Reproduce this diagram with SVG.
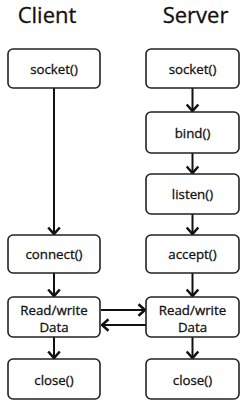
<svg xmlns="http://www.w3.org/2000/svg" width="250" height="409" viewBox="0 0 250 409">
<style>
.box rect{fill:#fff;stroke:#222;stroke-width:1.6}
.lbl{font-family:"Open Sans","Liberation Sans",sans-serif;font-size:13.3px;fill:#111;stroke:#111;stroke-width:0.3;text-anchor:middle}
.title{font-family:"Open Sans","Liberation Sans",sans-serif;font-size:22px;fill:#111;stroke:#111;stroke-width:0.3;text-anchor:middle}
.conn line{stroke:#111;stroke-width:2;marker-end:url(#arr)}
</style>
<defs>
<marker id="arr" markerUnits="userSpaceOnUse" viewBox="0 0 10 14" refX="8.5" refY="7" markerWidth="10" markerHeight="14" orient="auto">
<path d="M2,1.2 L8.5,7 L2,12.8" fill="none" stroke="#111" stroke-width="2.5"/>
</marker>
</defs>
<rect width="250" height="409" fill="#fff"/>
<text class="title" x="47" y="23">Client</text>
<text class="title" x="195.5" y="23">Server</text>
<g class="conn">
<line x1="54" y1="88" x2="54" y2="234"/>
<line x1="54" y1="273" x2="54" y2="296"/>
<line x1="54" y1="337" x2="54" y2="358"/>
<line x1="192.5" y1="88" x2="192.5" y2="111"/>
<line x1="192.5" y1="153" x2="192.5" y2="173"/>
<line x1="192.5" y1="214" x2="192.5" y2="234"/>
<line x1="192.5" y1="273" x2="192.5" y2="296"/>
<line x1="192.5" y1="337" x2="192.5" y2="358"/>
<line x1="101" y1="310" x2="145" y2="310"/>
<line x1="146" y1="325" x2="102" y2="325"/>
</g>
<g id="client-socket" class="box"><rect x="8" y="49" width="92" height="39" rx="5"/><text class="lbl" x="54" y="74">socket()</text></g>
<g id="client-connect" class="box"><rect x="8" y="235" width="92" height="38" rx="5"/><text class="lbl" x="54" y="259">connect()</text></g>
<g id="client-rw" class="box"><rect x="8" y="297" width="92" height="40" rx="5"/><text class="lbl" x="54" y="315">Read/write</text><text class="lbl" x="54" y="332">Data</text></g>
<g id="client-close" class="box"><rect x="8" y="359" width="92" height="40" rx="5"/><text class="lbl" x="54" y="384.5">close()</text></g>
<g id="server-socket" class="box"><rect x="146" y="49" width="93" height="39" rx="5"/><text class="lbl" x="192.5" y="74">socket()</text></g>
<g id="server-bind" class="box"><rect x="146" y="112" width="93" height="41" rx="5"/><text class="lbl" x="192.5" y="137.5">bind()</text></g>
<g id="server-listen" class="box"><rect x="146" y="174" width="93" height="40" rx="5"/><text class="lbl" x="192.5" y="199">listen()</text></g>
<g id="server-accept" class="box"><rect x="146" y="235" width="93" height="38" rx="5"/><text class="lbl" x="192.5" y="259">accept()</text></g>
<g id="server-rw" class="box"><rect x="146" y="297" width="93" height="40" rx="5"/><text class="lbl" x="192.5" y="315">Read/write</text><text class="lbl" x="192.5" y="332">Data</text></g>
<g id="server-close" class="box"><rect x="146" y="359" width="93" height="40" rx="5"/><text class="lbl" x="192.5" y="384.5">close()</text></g>
</svg>
